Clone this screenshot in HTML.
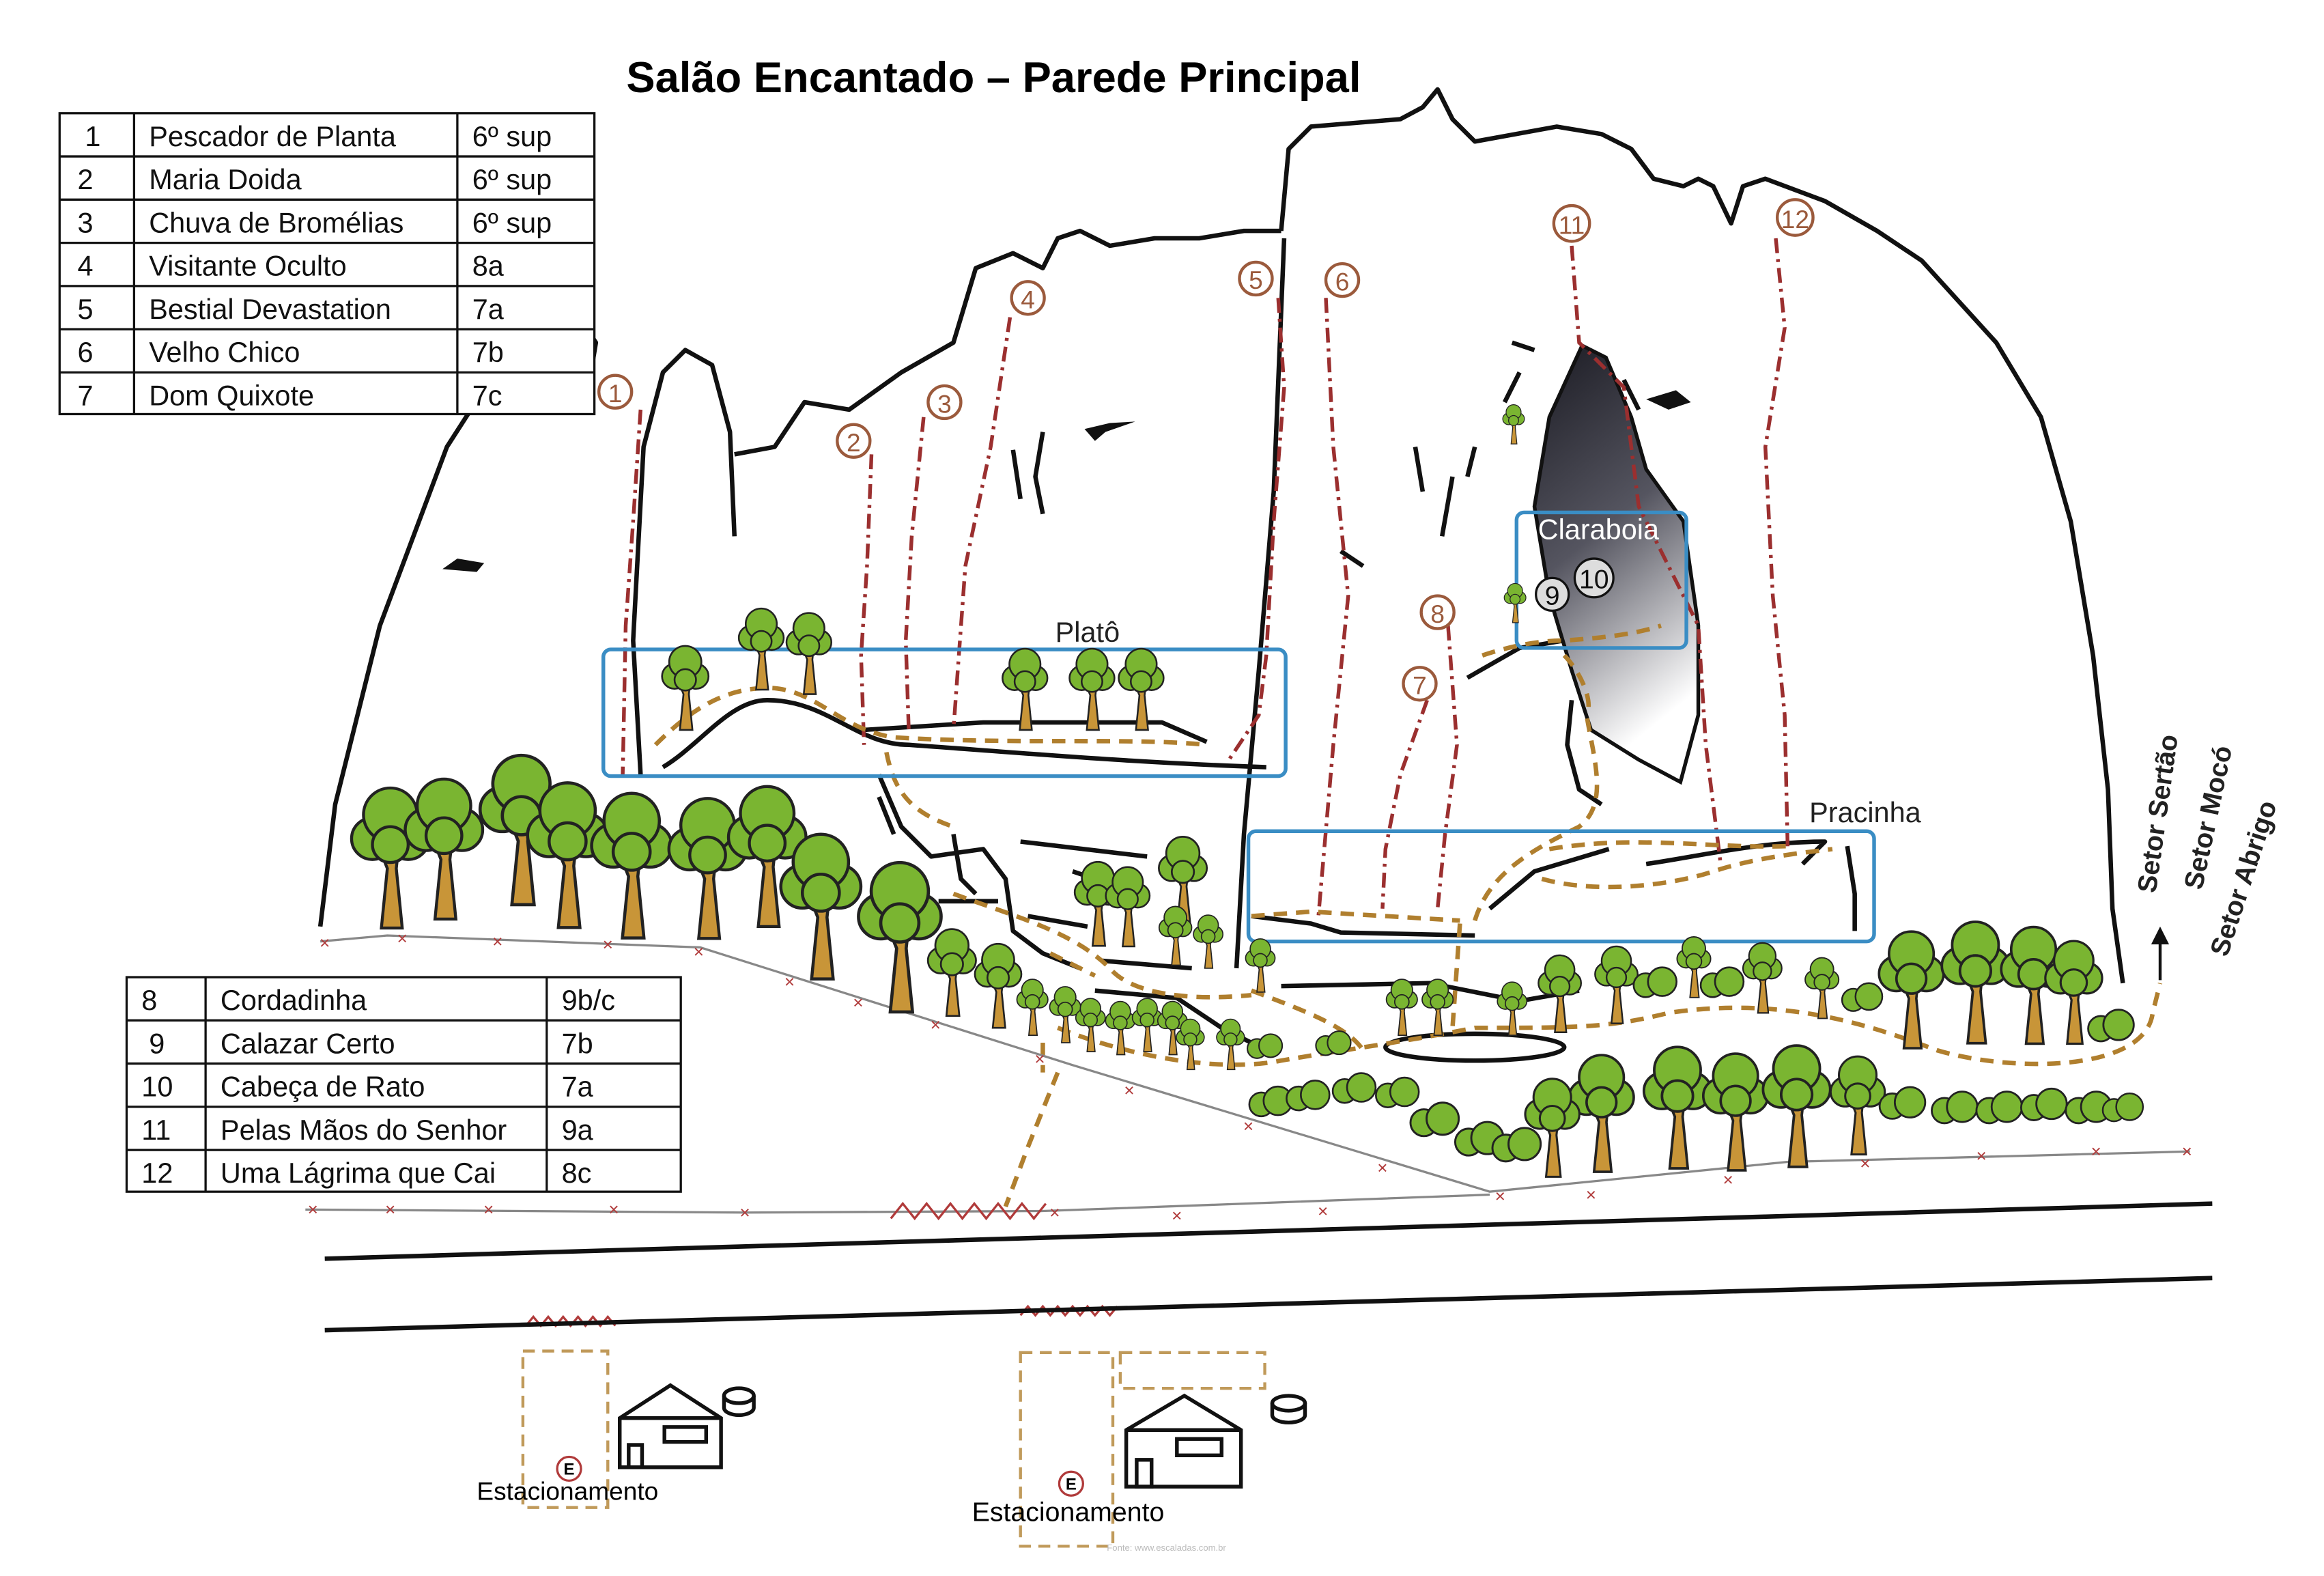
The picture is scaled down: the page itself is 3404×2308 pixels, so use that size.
<!DOCTYPE html>
<html><head><meta charset="utf-8"><style>
html,body{margin:0;padding:0;background:#fff;}
svg{display:block;}
text{font-family:"Liberation Sans",sans-serif;}
</style></head><body>
<svg width="3404" height="2308" viewBox="0 0 1560 1058" preserveAspectRatio="none" xmlns="http://www.w3.org/2000/svg">
<defs>
<linearGradient id="cave" x1="0" y1="0" x2="0.3" y2="1">
<stop offset="0" stop-color="#1a1a22"/><stop offset="0.5" stop-color="#555560"/><stop offset="1" stop-color="#ffffff"/>
</linearGradient>
<symbol id="tr" viewBox="0 0 60 100" overflow="visible">
<path d="M24 100 L28 60 L22 45 L30 50 L36 42 L34 60 L38 100 Z" fill="#c89538" stroke="#222" stroke-width="2"/>
<g fill="#7ab531" stroke="#222" stroke-width="2">
<circle cx="18" cy="40" r="14"/><circle cx="42" cy="40" r="14"/><circle cx="30" cy="24" r="18"/><circle cx="30" cy="44" r="12"/>
</g>
</symbol>
<symbol id="bu" viewBox="0 0 40 30" overflow="visible">
<g fill="#7ab531" stroke="#222" stroke-width="1.5"><circle cx="12" cy="18" r="10"/><circle cx="26" cy="15" r="12"/></g>
</symbol>
</defs>
<rect width="1560" height="1058" fill="#fff"/>
<text x="667" y="62" font-size="29" font-weight="bold" text-anchor="middle" font-family="Liberation Sans">Salão Encantado – Parede Principal</text>

<!-- rock outlines -->
<g fill="none" stroke="#111" stroke-width="3" stroke-linejoin="round">
<path d="M215 622 L225 540 L255 420 L300 300 L345 230 L390 215 L400 230 L395 260"/>
<path d="M430 520 L425 430 L432 300 L445 250 L460 235 L478 245 L490 290 L493 360"/>
<path d="M493 305 L520 300 L540 270 L570 275 L605 250 L640 230 L655 180 L680 170 L700 180 L710 160 L725 155 L745 165 L775 160 L805 160 L835 155 L860 155"/>
<path d="M860 155 L865 100 L880 85 L940 80 L955 72 L965 60 L975 80 L990 95 L1045 85 L1075 90 L1095 100 L1110 120 L1130 125 L1140 120 L1150 125 L1162 150 L1170 125 L1185 120 L1225 135 L1260 155 L1290 175 L1340 230 L1370 280 L1390 350 L1405 440 L1415 530 L1418 610 L1425 660"/>
<path d="M862 160 L855 330 L845 450 L835 560 L830 650"/>
<path d="M445 515 C470 500 490 470 515 470 C555 470 575 500 610 500 C680 505 760 512 850 515"/>
<path d="M580 490 L660 485 L780 485 L810 498"/>
<path d="M590 520 L605 555 L625 575 L660 570 L675 590 L680 625 L700 640 L725 650"/>
<path d="M590 535 L600 560"/><path d="M640 560 L645 590 L655 600"/><path d="M685 565 L770 575"/><path d="M720 585 L750 595"/>
<path d="M630 605 L670 605"/><path d="M690 615 L730 622"/><path d="M740 645 L800 650"/>
<path d="M735 665 L790 670 L820 690 L850 705"/><path d="M860 662 L960 660 L1020 672 L1060 665"/>
<path d="M840 615 L880 620 L900 626 L990 628"/><path d="M1000 610 L1030 585 L1080 570"/>
<path d="M1105 580 C1140 575 1180 565 1225 565 L1210 580"/>
<path d="M1240 568 L1245 600 L1245 625"/>
<ellipse cx="990" cy="703" rx="60" ry="9"/>
<path d="M1060 410 L1115 410"/>
<path d="M985 455 L1020 435 L1050 430"/>
<path d="M1055 470 L1052 500 L1060 530 L1075 540"/>
<path d="M680 302 L685 335 M700 290 L695 320 L700 345"/>
<path d="M950 300 L955 330 M975 320 L968 360 M990 300 L985 320"/>
<path d="M900 370 L915 380 M1015 230 L1030 235 M1020 250 L1010 270"/>
<path d="M1090 255 L1100 275"/>
</g>
<path d="M297 382 L307 375 L325 378 L320 384 Z" fill="#111"/>
<path d="M728 288 L745 284 L762 283 L742 290 L735 296 Z" fill="#111"/>
<path d="M1105 268 L1125 262 L1135 270 L1120 275 Z" fill="#111"/>
<!-- cave -->
<path d="M1062 232 L1078 240 L1095 280 L1105 315 L1130 350 L1140 420 L1140 480 L1128 525 L1100 510 L1068 490 L1055 450 L1040 400 L1030 340 L1040 280 Z" fill="url(#cave)" stroke="#111" stroke-width="2.5"/>

<!-- route lines dash-dot -->
<g fill="none" stroke="#9b2f2f" stroke-width="2.5" stroke-dasharray="10 4 2 4">
<path d="M430 275 L425 350 L420 420 L418 520"/>
<path d="M585 305 L582 380 L578 440 L580 500"/>
<path d="M620 280 L612 360 L608 430 L610 490"/>
<path d="M678 213 L665 300 L648 380 L640 490"/>
<path d="M858 200 L862 260 L855 350 L850 440 L845 480 L825 510"/>
<path d="M890 200 L895 300 L905 400 L895 500 L885 615"/>
<path d="M958 470 L940 520 L930 570 L928 610"/>
<path d="M972 420 L978 500 L970 560 L965 610"/>
<path d="M1055 165 L1060 230 L1090 260 L1100 340 L1140 420 L1145 500 L1155 580"/>
<path d="M1192 160 L1198 220 L1185 300 L1190 400 L1198 480 L1200 570"/>
</g>
<g fill="#fff" stroke="#9b5a3c" stroke-width="2">
<circle cx="413" cy="263" r="11"/><circle cx="573" cy="296" r="11"/><circle cx="634" cy="270" r="11"/><circle cx="690" cy="200" r="11"/>
<circle cx="843" cy="187" r="11"/><circle cx="901" cy="188" r="11"/><circle cx="965" cy="411" r="11"/><circle cx="953" cy="459" r="11"/>
<circle cx="1055" cy="150" r="12"/><circle cx="1205" cy="146" r="12"/>
</g>
<g fill="#9b5a3c" font-size="17" text-anchor="middle">
<text x="413" y="270">1</text><text x="573" y="303">2</text><text x="634" y="277">3</text><text x="690" y="207">4</text>
<text x="843" y="194">5</text><text x="901" y="195">6</text><text x="965" y="418">8</text><text x="953" y="466">7</text>
<text x="1055" y="157">11</text><text x="1205" y="153">12</text>
</g>
<g fill="#ddd" stroke="#111" stroke-width="1.5"><circle cx="1042" cy="399" r="11"/><circle cx="1070" cy="388" r="13"/></g>
<g fill="#111" font-size="18" text-anchor="middle"><text x="1042" y="406">9</text><text x="1070" y="395">10</text></g>

<!-- dashed trails -->
<g fill="none" stroke="#b07f2e" stroke-width="3" stroke-dasharray="9 6">
<path d="M440 500 C460 480 485 460 520 462 C550 465 565 490 600 495 C680 500 760 495 810 500"/>
<path d="M595 505 C600 530 610 545 640 555"/>
<path d="M640 600 C680 615 720 625 745 650 C760 668 800 672 840 668"/>
<path d="M705 640 L735 655"/>
<path d="M840 615 L880 612 L980 618"/>
<path d="M990 618 C1000 585 1030 570 1060 555 C1080 540 1070 510 1065 480"/>
<path d="M1050 440 C1060 450 1070 470 1065 480"/>
<path d="M995 440 C1010 435 1030 430 1050 430 C1080 428 1100 425 1115 420"/>
<path d="M1040 570 C1100 560 1150 570 1200 568"/>
<path d="M1035 590 C1070 600 1120 595 1150 585 C1180 575 1215 572 1230 570"/>
<path d="M980 620 L975 690"/>
<path d="M710 690 C760 710 820 720 860 712 C900 705 940 700 990 690 C1060 690 1080 690 1120 680 C1200 668 1260 690 1300 705 C1350 720 1440 720 1445 680 L1450 660"/>
<path d="M700 700 L700 720"/>
<path d="M710 720 L690 770 L675 810"/>
<path d="M840 665 C880 680 905 690 915 705"/>
</g>

<!-- blue boxes -->
<g fill="none" stroke="#3a8dc4" stroke-width="2.5">
<rect x="405" y="436" width="458" height="85" rx="5"/>
<rect x="838" y="558" width="420" height="74" rx="5"/>
<rect x="1018" y="344" width="114" height="91" rx="5"/>
</g>
<text x="730" y="431" font-size="19" fill="#222" text-anchor="middle">Platô</text>
<text x="1252" y="552" font-size="19" fill="#222" text-anchor="middle">Pracinha</text>
<text x="1073" y="362" font-size="19" fill="#fff" text-anchor="middle">Claraboia</text>

<!-- fences -->
<g fill="none" stroke="#888" stroke-width="1.5">
<path d="M215 632 L260 628 L470 636 L720 715 L1000 800 L1200 780 L1470 773"/>
<path d="M205 812 L500 814 L700 813 L1000 802"/>
</g>
<g stroke="#b03a3a" stroke-width="1.5" fill="none">
<path d="M598 818 L606 808 L614 818 L622 808 L630 818 L638 808 L646 818 L654 808 L662 818 L670 808 L678 818 L686 808 L694 818 L702 808"/>
<path d="M353 890 L358 884 L363 890 L368 884 L373 890 L378 884 L383 890 L388 884 L393 890 L398 884 L403 890 L408 884 L413 890"/>
<path d="M685 883 L690 877 L695 883 L700 877 L705 883 L710 877 L715 883 L720 877 L725 883 L730 877 L735 883 L740 877 L745 883 L750 877"/>
</g>
<g fill="#b03a3a" font-size="12" text-anchor="middle">
<text x="218" y="637">×</text><text x="270" y="634">×</text><text x="334" y="636">×</text><text x="408" y="638">×</text><text x="469" y="643">×</text>
<text x="530" y="663">×</text><text x="576" y="677">×</text><text x="628" y="692">×</text><text x="698" y="715">×</text><text x="758" y="736">×</text>
<text x="838" y="760">×</text><text x="928" y="788">×</text><text x="1007" y="807">×</text><text x="1068" y="806">×</text><text x="1160" y="796">×</text>
<text x="1252" y="785">×</text><text x="1330" y="780">×</text><text x="1407" y="777">×</text><text x="1468" y="777">×</text>
<text x="210" y="816">×</text><text x="262" y="816">×</text><text x="328" y="816">×</text><text x="412" y="816">×</text><text x="500" y="818">×</text>
<text x="708" y="818">×</text><text x="790" y="820">×</text><text x="888" y="817">×</text>
</g>
<!-- roads -->
<g stroke="#111" stroke-width="3"><line x1="218" y1="845" x2="1485" y2="808"/><line x1="218" y1="893" x2="1485" y2="858"/></g>

<!-- trees -->
<g>
<use href="#tr" x="440" y="430" width="40" height="60"/><use href="#tr" x="493" y="405" width="36" height="58"/><use href="#tr" x="525" y="408" width="36" height="58"/>
<use href="#tr" x="670" y="432" width="36" height="58"/><use href="#tr" x="715" y="432" width="36" height="58"/><use href="#tr" x="748" y="432" width="36" height="58"/>
<use href="#tr" x="232" y="518" width="60" height="110"/><use href="#tr" x="268" y="512" width="60" height="110"/><use href="#tr" x="318" y="495" width="64" height="118"/>
<use href="#tr" x="350" y="515" width="62" height="112"/><use href="#tr" x="393" y="522" width="62" height="112"/><use href="#tr" x="445" y="525" width="60" height="110"/>
<use href="#tr" x="485" y="518" width="60" height="108"/><use href="#tr" x="520" y="548" width="62" height="115"/><use href="#tr" x="572" y="570" width="64" height="112"/>
<use href="#tr" x="718" y="575" width="38" height="60"/><use href="#tr" x="775" y="558" width="38" height="62"/><use href="#tr" x="740" y="578" width="34" height="58"/>
<use href="#tr" x="775" y="606" width="28" height="42"/><use href="#tr" x="798" y="612" width="26" height="38"/><use href="#tr" x="833" y="628" width="26" height="38"/>
<use href="#tr" x="620" y="620" width="38" height="62"/><use href="#tr" x="652" y="630" width="36" height="60"/>
<use href="#tr" x="680" y="655" width="26" height="40"/><use href="#tr" x="702" y="660" width="26" height="40"/><use href="#tr" x="720" y="668" width="24" height="38"/>
<use href="#tr" x="740" y="670" width="24" height="38"/><use href="#tr" x="758" y="668" width="24" height="38"/><use href="#tr" x="775" y="670" width="24" height="38"/>
<use href="#tr" x="787" y="682" width="24" height="36"/><use href="#tr" x="814" y="682" width="24" height="36"/>
<use href="#tr" x="928" y="655" width="26" height="40"/><use href="#tr" x="952" y="655" width="26" height="40"/><use href="#tr" x="1003" y="657" width="24" height="38"/>
<use href="#tr" x="1030" y="638" width="34" height="55"/><use href="#tr" x="1068" y="632" width="34" height="55"/><use href="#tr" x="1124" y="626" width="26" height="44"/>
<use href="#tr" x="1168" y="630" width="30" height="50"/><use href="#tr" x="1210" y="640" width="26" height="44"/>
<use href="#tr" x="1258" y="618" width="50" height="88"/><use href="#tr" x="1300" y="612" width="52" height="90"/><use href="#tr" x="1340" y="615" width="50" height="88"/><use href="#tr" x="1370" y="620" width="44" height="88"/>
<use href="#tr" x="1050" y="700" width="50" height="90"/><use href="#tr" x="1100" y="695" width="52" height="92"/><use href="#tr" x="1140" y="700" width="50" height="88"/><use href="#tr" x="1180" y="695" width="52" height="90"/><use href="#tr" x="1225" y="705" width="44" height="70"/><use href="#tr" x="1020" y="720" width="44" height="70"/>
<use href="#tr" x="1006" y="270" width="20" height="28"/><use href="#tr" x="1007" y="390" width="20" height="28"/>
<use href="#bu" x="837" y="725" width="32" height="28"/><use href="#bu" x="862" y="720" width="32" height="30"/><use href="#bu" x="893" y="715" width="32" height="30"/><use href="#bu" x="922" y="718" width="32" height="30"/>
<use href="#bu" x="945" y="735" width="36" height="32"/><use href="#bu" x="975" y="748" width="36" height="32"/><use href="#bu" x="1000" y="752" width="36" height="32"/>
<use href="#bu" x="1260" y="725" width="34" height="30"/><use href="#bu" x="1295" y="728" width="34" height="30"/><use href="#bu" x="1325" y="728" width="34" height="30"/><use href="#bu" x="1355" y="726" width="34" height="30"/><use href="#bu" x="1385" y="728" width="34" height="30"/><use href="#bu" x="1410" y="728" width="30" height="30"/>
<use href="#bu" x="1140" y="645" width="32" height="28"/><use href="#bu" x="1095" y="645" width="32" height="28"/><use href="#bu" x="1235" y="655" width="30" height="28"/><use href="#bu" x="1400" y="672" width="34" height="32"/>
<use href="#bu" x="836" y="690" width="26" height="24"/><use href="#bu" x="882" y="688" width="26" height="24"/>
</g>

<!-- houses -->
<g fill="none" stroke="#111" stroke-width="2.5">
<path d="M416 952 L450 930 L484 952 L484 985 L416 985 Z M416 952 L484 952"/><rect x="446" y="958" width="28" height="10"/><rect x="422" y="970" width="9" height="15"/>
<ellipse cx="496" cy="937" rx="10" ry="5"/><path d="M486 937 L486 945 A10 5 0 0 0 506 945 L506 937"/>
<path d="M756 960 L795 937 L833 960 L833 998 L756 998 Z M756 960 L833 960"/><rect x="790" y="966" width="30" height="11"/><rect x="763" y="980" width="10" height="18"/>
<ellipse cx="865" cy="942" rx="11" ry="5"/><path d="M854 942 L854 950 A11 5 0 0 0 876 950 L876 942"/>
</g>
<g fill="none" stroke="#c09a5a" stroke-width="2" stroke-dasharray="8 5">
<rect x="351" y="907" width="57" height="105"/><rect x="685" y="908" width="62" height="130"/><rect x="752" y="908" width="97" height="24"/>
</g>
<g fill="#fff" stroke="#b03a3a" stroke-width="1.5"><circle cx="382" cy="986" r="8"/><circle cx="719" cy="996" r="8"/></g>
<g font-size="11" font-weight="bold" text-anchor="middle"><text x="382" y="990">E</text><text x="719" y="1000">E</text></g>
<text x="381" y="1007" font-size="17" text-anchor="middle">Estacionamento</text>
<text x="717" y="1021" font-size="18" text-anchor="middle">Estacionamento</text>
<text x="783" y="1041" font-size="6" fill="#bbb" text-anchor="middle">Fonte: www.escaladas.com.br</text>

<!-- sectors -->
<g font-size="18" font-weight="bold" fill="#222">
<text transform="translate(1447,600) rotate(-82)">Setor Sertão</text>
<text transform="translate(1478,598) rotate(-78)">Setor Mocó</text>
<text transform="translate(1495,643) rotate(-72)">Setor Abrigo</text>
</g>
<path d="M1450 658 L1450 630" stroke="#111" stroke-width="2"/><path d="M1444 634 L1450 622 L1456 634 Z" fill="#111"/>

<!-- tables -->
<g fill="none" stroke="#111" stroke-width="1.5">
<rect x="40" y="76" width="359" height="202" fill="#fff"/>
<line x1="90" y1="76" x2="90" y2="278"/><line x1="307" y1="76" x2="307" y2="278"/>
<line x1="40" y1="105" x2="399" y2="105"/><line x1="40" y1="134" x2="399" y2="134"/><line x1="40" y1="163" x2="399" y2="163"/>
<line x1="40" y1="192" x2="399" y2="192"/><line x1="40" y1="221" x2="399" y2="221"/><line x1="40" y1="250" x2="399" y2="250"/>
<rect x="85" y="656" width="372" height="144" fill="#fff"/>
<line x1="138" y1="656" x2="138" y2="800"/><line x1="367" y1="656" x2="367" y2="800"/>
<line x1="85" y1="685" x2="457" y2="685"/><line x1="85" y1="714" x2="457" y2="714"/><line x1="85" y1="743" x2="457" y2="743"/><line x1="85" y1="772" x2="457" y2="772"/>
</g>
<g font-size="19" fill="#111">
<text x="57" y="98">1</text><text x="100" y="98">Pescador de Planta</text><text x="317" y="98">6º sup</text>
<text x="52" y="127">2</text><text x="100" y="127">Maria Doida</text><text x="317" y="127">6º sup</text>
<text x="52" y="156">3</text><text x="100" y="156">Chuva de Bromélias</text><text x="317" y="156">6º sup</text>
<text x="52" y="185">4</text><text x="100" y="185">Visitante Oculto</text><text x="317" y="185">8a</text>
<text x="52" y="214">5</text><text x="100" y="214">Bestial Devastation</text><text x="317" y="214">7a</text>
<text x="52" y="243">6</text><text x="100" y="243">Velho Chico</text><text x="317" y="243">7b</text>
<text x="52" y="272">7</text><text x="100" y="272">Dom Quixote</text><text x="317" y="272">7c</text>
<text x="95" y="678">8</text><text x="148" y="678">Cordadinha</text><text x="377" y="678">9b/c</text>
<text x="100" y="707">9</text><text x="148" y="707">Calazar Certo</text><text x="377" y="707">7b</text>
<text x="95" y="736">10</text><text x="148" y="736">Cabeça de Rato</text><text x="377" y="736">7a</text>
<text x="95" y="765">11</text><text x="148" y="765">Pelas Mãos do Senhor</text><text x="377" y="765">9a</text>
<text x="95" y="794">12</text><text x="148" y="794">Uma Lágrima que Cai</text><text x="377" y="794">8c</text>
</g>
</svg>
</body></html>
